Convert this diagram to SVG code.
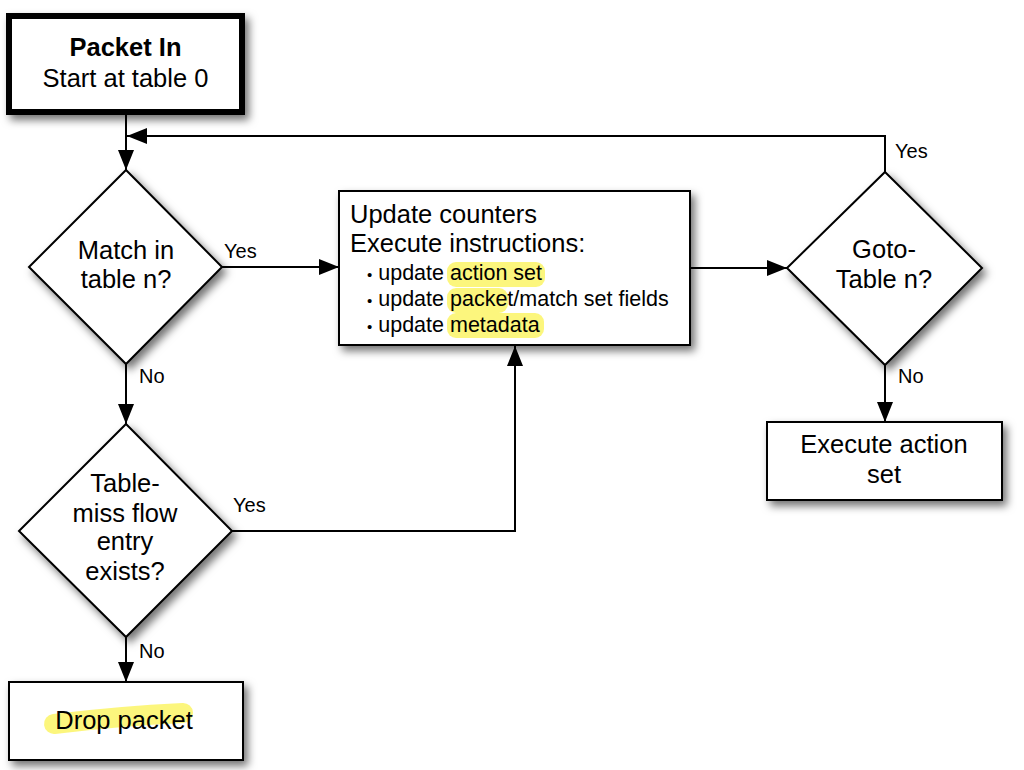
<svg xmlns="http://www.w3.org/2000/svg" width="1024" height="770" viewBox="0 0 1024 770">
<defs>
<style>
text{font-family:"Liberation Sans",Arial,sans-serif;fill:#000}
.n{fill:#fff;stroke:#000;stroke-width:2}
.t{font-size:25.5px;text-anchor:middle}
.b{font-size:21.5px}
.d{font-size:15px}
.l{font-size:20px}
.c{fill:none;stroke:#000;stroke-width:2}
.hl{fill:#fbf566;opacity:0.85}
</style>
<filter id="sh" x="-20%" y="-20%" width="150%" height="150%">
<feDropShadow dx="4" dy="5" stdDeviation="4.5" flood-color="#000" flood-opacity="0.55"/>
</filter>
<marker id="ar" markerUnits="userSpaceOnUse" markerWidth="20" markerHeight="16" refX="20" refY="8" orient="auto">
<path d="M0,0 L20,8 L0,16 z" fill="#000"/>
</marker>
</defs>
<rect width="1024" height="770" fill="#fff"/>

<g id="connectors">
<path class="c" d="M126,115 V170" marker-end="url(#ar)"/>
<path class="c" d="M885,172 V136 H127" marker-end="url(#ar)"/>
<path class="c" d="M222,267 H339" marker-end="url(#ar)"/>
<path class="c" d="M690,268 H787" marker-end="url(#ar)"/>
<path class="c" d="M126,364 V424" marker-end="url(#ar)"/>
<path class="c" d="M232,531 H515 V346" marker-end="url(#ar)"/>
<path class="c" d="M126,637 V682" marker-end="url(#ar)"/>
<path class="c" d="M885,365 V422" marker-end="url(#ar)"/>
<text class="l" x="224" y="258">Yes</text>
<text class="l" x="139" y="383">No</text>
<text class="l" x="233" y="512">Yes</text>
<text class="l" x="139" y="658">No</text>
<text class="l" x="895" y="158">Yes</text>
<text class="l" x="898" y="383">No</text>
</g>

<g id="packet-in">
<rect x="9" y="16" width="233" height="96" fill="#fff" stroke="#000" stroke-width="6" filter="url(#sh)"/>
<text class="t" x="125.5" y="56" font-weight="bold">Packet In</text>
<text class="t" x="125.5" y="87">Start at table 0</text>
</g>

<g id="match">
<polygon class="n" points="126,170 222,267 126,364 29,267" filter="url(#sh)"/>
<text class="t" x="126" y="259">Match in</text>
<text class="t" x="126" y="288">table n?</text>
</g>

<g id="update">
<rect class="n" x="339" y="191" width="351" height="154" filter="url(#sh)"/>
<rect class="hl" x="447" y="262" width="98" height="25" rx="9"/>
<rect class="hl" x="447" y="288" width="61" height="25" rx="9"/>
<rect class="hl" x="447" y="313" width="97" height="25" rx="9"/>
<text x="350" y="223" font-size="25.5px">Update counters</text>
<text x="350" y="252" font-size="25.5px">Execute instructions:</text>
<text class="b" x="367" y="280"><tspan class="d">•</tspan> update action set</text>
<text class="b" x="367" y="306"><tspan class="d">•</tspan> update packet/match set fields</text>
<text class="b" x="367" y="332"><tspan class="d">•</tspan> update metadata</text>
</g>

<g id="goto">
<polygon class="n" points="885,172 982,268 885,365 787,268" filter="url(#sh)"/>
<text class="t" x="884" y="258">Goto-</text>
<text class="t" x="884" y="288">Table n?</text>
</g>

<g id="execute">
<rect class="n" x="767" y="422" width="235" height="78" filter="url(#sh)"/>
<text class="t" x="884" y="453">Execute action</text>
<text class="t" x="884" y="483">set</text>
</g>

<g id="table-miss">
<polygon class="n" points="126,424 232,531 126,637 19,531" filter="url(#sh)"/>
<text class="t" x="125" y="492">Table-</text>
<text class="t" x="125" y="522">miss flow</text>
<text class="t" x="125" y="550">entry</text>
<text class="t" x="125" y="580">exists?</text>
</g>

<g id="drop">
<rect class="n" x="9" y="682" width="234" height="78" filter="url(#sh)"/>
<path d="M54,724 Q120,716 183,713" fill="none" stroke="#fbf566" stroke-width="20" stroke-linecap="round" opacity="0.85"/>
<text class="t" x="124" y="729">Drop packet</text>
</g>
</svg>
